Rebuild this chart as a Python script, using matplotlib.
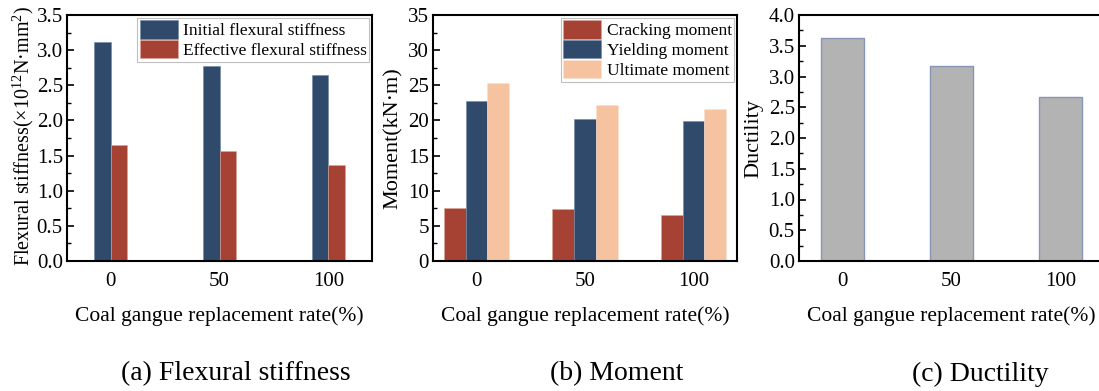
import numpy as np
import matplotlib.pyplot as plt
from matplotlib.ticker import MultipleLocator, AutoMinorLocator

plt.rcParams['font.family'] = ['Liberation Serif', 'DejaVu Serif']
plt.rcParams['mathtext.fontset'] = 'custom'
plt.rcParams['mathtext.rm'] = 'Liberation Serif'

# replacement rate groups
rates = ['0', '50', '100']

# (a) flexural stiffness, x10^12 N*mm^2
initial_stiffness = [3.11, 2.78, 2.65]
effective_stiffness = [1.65, 1.56, 1.36]

# (b) moments, kN*m
cracking_moment = [7.6, 7.4, 6.5]
yielding_moment = [22.8, 20.2, 19.9]
ultimate_moment = [25.3, 22.2, 21.6]

# (c) ductility coefficient
ductility = [3.62, 3.17, 2.67]

navy = '#2f4a6b'
brick = '#a54233'
peach = '#f6c3a0'
grey = '#b3b3b3'

fig = plt.figure(figsize=(10.99, 3.91), dpi=100)
W, H = 1099, 391


def make_axes(left, right, top=15, bottom=261):
    return fig.add_axes([left / W, (H - bottom) / H, (right - left) / W, (bottom - top) / H])


def style(ax, ymax, major, ylabel, lab_x, lab_size=16, lab_y=0.5):
    x = np.arange(len(rates))
    ax.set_xlim(-0.4, 2.4)
    ax.set_ylim(0, ymax)
    ax.set_xticks(x)
    ax.set_xticklabels(rates)
    ax.yaxis.set_major_locator(MultipleLocator(major))
    ax.yaxis.set_minor_locator(AutoMinorLocator(2))
    ax.tick_params(axis='y', which='major', direction='in', length=5, width=1.2, labelsize=15, pad=3)
    ax.tick_params(axis='y', which='minor', direction='in', length=3, width=1.0)
    ax.tick_params(axis='x', length=0, labelsize=15, pad=8)
    for s in ax.spines.values():
        s.set_linewidth(1.5)
    ax.set_xlabel('Coal gangue replacement rate(%)', fontsize=15.5, labelpad=11)
    ax.set_ylabel(ylabel, fontsize=lab_size, va='center')
    ax.yaxis.set_label_coords(lab_x, lab_y)


def legend(ax, handles, labels):
    leg = ax.legend(handles, labels, loc='upper right', fontsize=12.5, frameon=True,
                    fancybox=False, handlelength=2.2, handleheight=1.25, labelspacing=0.05,
                    handletextpad=0.3, borderpad=0.15, borderaxespad=0.15)
    leg.get_frame().set_edgecolor('#b0b0b0')
    leg.get_frame().set_linewidth(0.8)


x = np.arange(len(rates))

# (a) flexural stiffness
ax1 = make_axes(67, 372)
w = 0.155
b1 = ax1.bar(x - w / 2, initial_stiffness, w, color=navy, edgecolor='#6d86a6', linewidth=0.4)
b2 = ax1.bar(x + w / 2, effective_stiffness, w, color=brick, edgecolor='#e0a49a', linewidth=0.4)
style(ax1, 3.5, 0.5, 'Flexural stiffness(×10$^{12}$N·mm$^{2}$)', -0.145, lab_size=14.5, lab_y=0.51)
legend(ax1, [b1, b2], ['Initial flexural stiffness', 'Effective flexural stiffness'])

# (b) moment
ax2 = make_axes(433, 737)
w = 0.2
m1 = ax2.bar(x - w, cracking_moment, w, color=brick, edgecolor='#e0a49a', linewidth=0.4)
m2 = ax2.bar(x, yielding_moment, w, color=navy, edgecolor='#6d86a6', linewidth=0.4)
m3 = ax2.bar(x + w, ultimate_moment, w, color=peach, edgecolor='#fbe2d0', linewidth=0.4)
style(ax2, 35, 5, 'Moment(kN·m)', -0.13)
legend(ax2, [m1, m2, m3], ['Cracking moment', 'Yielding moment', 'Ultimate moment'])

# (c) ductility
ax3 = make_axes(799, 1104)
ax3.bar(x, ductility, 0.4, color=grey, edgecolor='#8796b4', linewidth=1.0)
style(ax3, 4.0, 0.5, 'Ductility', -0.148)

fig.text(236 / W, 1 - 374 / H, '(a) Flexural stiffness', ha='center', va='center', fontsize=20)
fig.text(617 / W, 1 - 374 / H, '(b) Moment', ha='center', va='center', fontsize=20)
fig.text(980 / W, 1 - 374 / H, '(c) Ductility', ha='center', va='center', fontsize=20)

fig.savefig('out.png', dpi=100)
